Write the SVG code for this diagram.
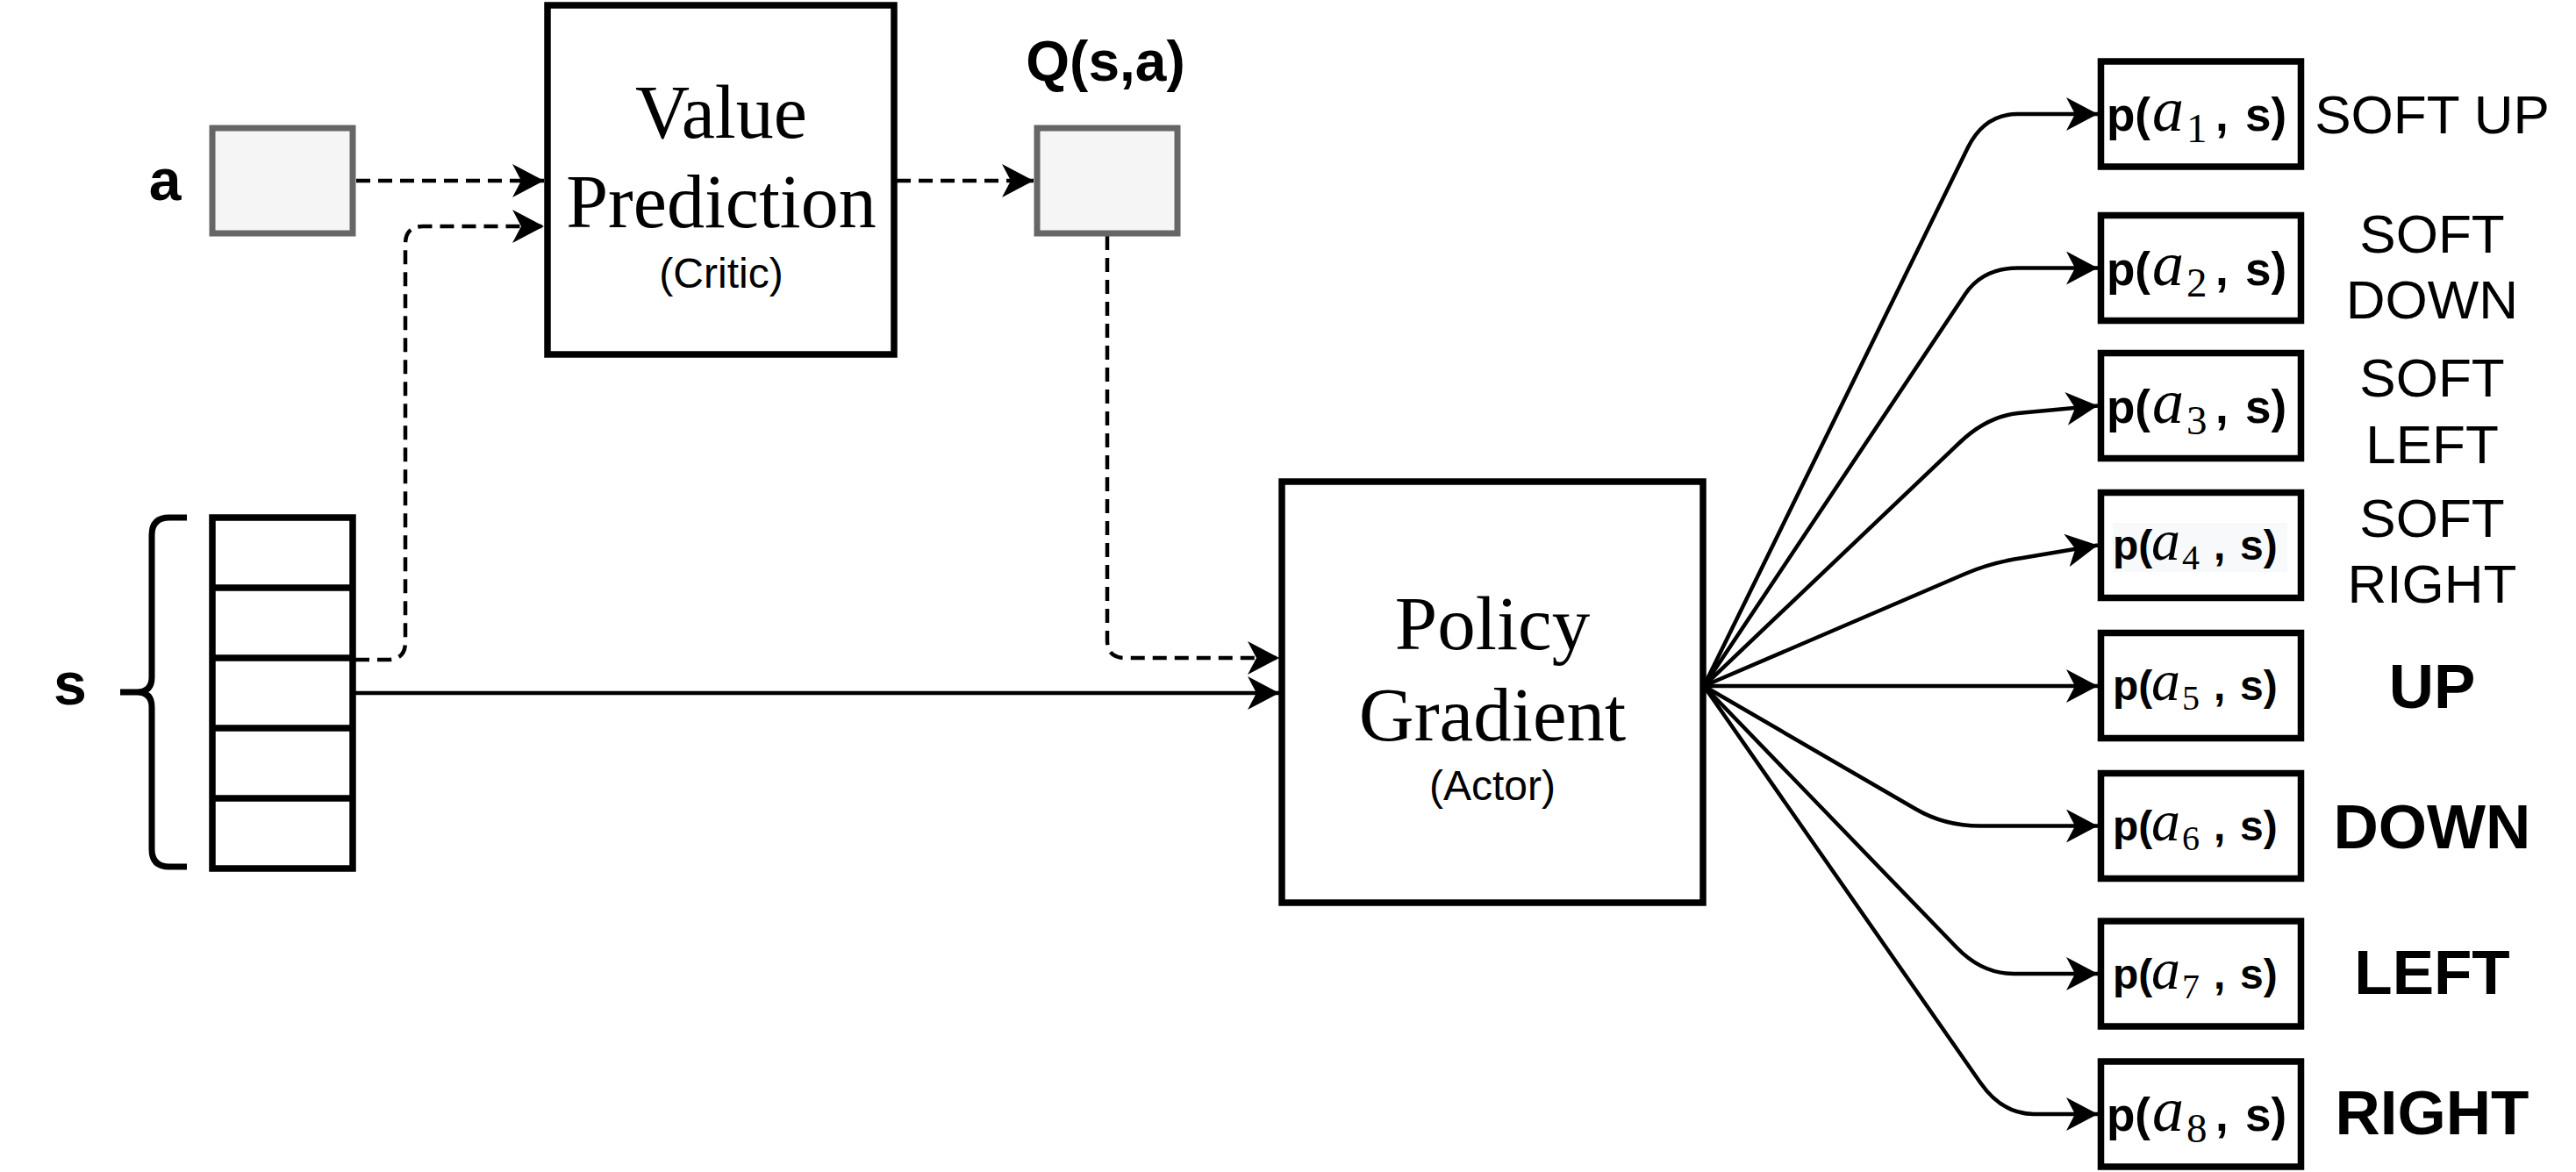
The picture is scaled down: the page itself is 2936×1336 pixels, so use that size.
<svg xmlns="http://www.w3.org/2000/svg" width="2936" height="1336" viewBox="0 0 2936 1336">
<defs>
<style>
.box{fill:#ffffff;stroke:#000000;stroke-width:7.5}
.gbox{fill:#f5f5f5;stroke:#666666;stroke-width:7}
.ln{fill:none;stroke:#000000;stroke-width:4.5}
.dash{stroke-dasharray:16 9}
.serif{font-family:"Liberation Serif","Times New Roman",serif;font-size:86px;text-anchor:middle;fill:#000}
.sub{font-family:"Liberation Sans",Arial,sans-serif;font-size:48px;text-anchor:middle;fill:#000}
.lbl{font-family:"Liberation Sans",Arial,sans-serif;font-weight:bold;fill:#000;text-anchor:middle}
.act{font-family:"Liberation Sans",Arial,sans-serif;font-size:62px;text-anchor:middle;fill:#000}
.actb{font-family:"Liberation Sans",Arial,sans-serif;font-size:71px;font-weight:bold;text-anchor:middle;fill:#000}
.pn{font-family:"Liberation Sans",Arial,sans-serif;font-weight:bold;font-size:48px;fill:#000}
.pw{font-family:"Liberation Sans",Arial,sans-serif;font-weight:bold;font-size:53px;fill:#000}
.pn .mi{font-family:"Liberation Serif","Times New Roman",serif;font-style:italic;font-weight:normal;font-size:66px}
.pn .mn{font-family:"Liberation Serif","Times New Roman",serif;font-weight:normal;font-size:40px}
.pw .mi{font-family:"Liberation Serif","Times New Roman",serif;font-style:italic;font-weight:normal;font-size:72px}
.pw .mn{font-family:"Liberation Serif","Times New Roman",serif;font-weight:normal;font-size:47px}
</style>
<marker id="arr" markerUnits="userSpaceOnUse" markerWidth="36" markerHeight="38" refX="36" refY="19" orient="auto" viewBox="0 0 36 38">
<path d="M0,0 L36,19 L0,38 L10,19 Z" fill="#000"/>
</marker>
</defs>
<rect width="2936" height="1336" fill="#ffffff"/>

<g id="connectors">
<path class="ln dash" d="M406,206 L620,206" marker-end="url(#arr)"/>
<path class="ln dash" d="M405,752 L442,752 Q462,752 462,732 L462,278 Q462,258 482,258 L620,258" marker-end="url(#arr)"/>
<path class="ln dash" d="M1022,206 L1178,206" marker-end="url(#arr)"/>
<path class="ln dash" d="M1262,269 L1262,730 Q1262,750 1282,750 L1458,750" marker-end="url(#arr)"/>
<path class="ln" d="M405,790 L1458,790" marker-end="url(#arr)"/>
<path class="ln" d="M1942,782 L2243,168 Q2262,130 2300,130 L2391,130" marker-end="url(#arr)"/>
<path class="ln" d="M1942,782 L2240,335 Q2260,305.5 2300,305.5 L2391,305.5" marker-end="url(#arr)"/>
<path class="ln" d="M1942,782 L2233,505 Q2264,475 2300,471 L2391,462.5" marker-end="url(#arr)"/>
<path class="ln" d="M1942,782 L2240,654 Q2270,641 2305,636 L2391,621.5" marker-end="url(#arr)"/>
<path class="ln" d="M1942,782 L2391,782" marker-end="url(#arr)"/>
<path class="ln" d="M1942,782 L2183,922 Q2216,941.5 2257,941.5 L2391,941.5" marker-end="url(#arr)"/>
<path class="ln" d="M1942,782 L2230,1080 Q2259,1110 2295,1110 L2391,1110" marker-end="url(#arr)"/>
<path class="ln" d="M1942,782 L2257,1234 Q2282,1270 2318,1270 L2391,1270" marker-end="url(#arr)"/>
</g>

<g id="a-input">
<rect class="gbox" x="242" y="146" width="160" height="120"/>
<text class="lbl" x="188" y="228" font-size="66">a</text>
</g>

<g id="value-prediction">
<rect class="box" x="624" y="6" width="395" height="398"/>
<text class="serif" x="822" y="157">Value</text>
<text class="serif" x="822" y="259">Prediction</text>
<text class="sub" x="822" y="328">(Critic)</text>
</g>

<g id="q-output">
<rect class="gbox" x="1182" y="146" width="160" height="120"/>
<text class="lbl" x="1260" y="92" font-size="64">Q(s,a)</text>
</g>

<g id="state">
<rect class="box" x="242" y="590" width="160" height="400"/>
<path d="M242,670 H402 M242,750 H402 M242,830 H402 M242,910 H402" stroke="#000" stroke-width="7.5" fill="none"/>
<path d="M213,590 H193 Q173,590 173,610 V772 Q173,789 156,789 H137 M156,789 Q173,789 173,806 V968 Q173,988 193,988 H213" fill="none" stroke="#000" stroke-width="7"/>
<text class="lbl" x="80" y="803" font-size="68">s</text>
</g>

<g id="policy-gradient">
<rect class="box" x="1461" y="549" width="480" height="480"/>
<text class="serif" x="1701" y="740" style="font-size:87px">Policy</text>
<text class="serif" x="1701" y="844" style="font-size:87px">Gradient</text>
<text class="sub" x="1701" y="912">(Actor)</text>
</g>

<g id="p1">
<rect class="box" x="2394.5" y="70" width="228" height="120"/>
<text class="pw" y="149"><tspan x="2401">p(</tspan><tspan class="mi" x="2453">a</tspan><tspan class="mn" x="2492" y="162">1</tspan><tspan x="2525" y="149">,</tspan><tspan x="2559">s)</tspan></text>
<text class="act" x="2772" y="152">SOFT UP</text>
</g>

<g id="p2">
<rect class="box" x="2394.5" y="245.5" width="228" height="120"/>
<text class="pw" y="324.5"><tspan x="2401">p(</tspan><tspan class="mi" x="2453">a</tspan><tspan class="mn" x="2492" y="337.5">2</tspan><tspan x="2525" y="324.5">,</tspan><tspan x="2559">s)</tspan></text>
<text class="act" x="2772" y="288">SOFT</text>
<text class="act" x="2772" y="363">DOWN</text>
</g>

<g id="p3">
<rect class="box" x="2394.5" y="402.5" width="228" height="120"/>
<text class="pw" y="481.5"><tspan x="2401">p(</tspan><tspan class="mi" x="2453">a</tspan><tspan class="mn" x="2492" y="494.5">3</tspan><tspan x="2525" y="481.5">,</tspan><tspan x="2559">s)</tspan></text>
<text class="act" x="2772" y="452">SOFT</text>
<text class="act" x="2772" y="528">LEFT</text>
</g>

<g id="p4">
<rect class="box" x="2394.5" y="561.5" width="228" height="120"/>
<rect x="2408" y="596" width="199" height="56" fill="#f8f9fa"/>
<text class="pn" y="638"><tspan x="2408">p(</tspan><tspan class="mi" x="2452">a</tspan><tspan class="mn" x="2487" y="649">4</tspan><tspan x="2523" y="638">,</tspan><tspan x="2553">s)</tspan></text>
<text class="act" x="2772" y="612">SOFT</text>
<text class="act" x="2772" y="687">RIGHT</text>
</g>

<g id="p5">
<rect class="box" x="2394.5" y="721.5" width="228" height="120"/>
<text class="pn" y="798"><tspan x="2408">p(</tspan><tspan class="mi" x="2452">a</tspan><tspan class="mn" x="2487" y="809">5</tspan><tspan x="2523" y="798">,</tspan><tspan x="2553">s)</tspan></text>
<text class="actb" x="2772" y="807">UP</text>
</g>

<g id="p6">
<rect class="box" x="2394.5" y="881.5" width="228" height="120"/>
<text class="pn" y="958"><tspan x="2408">p(</tspan><tspan class="mi" x="2452">a</tspan><tspan class="mn" x="2487" y="969">6</tspan><tspan x="2523" y="958">,</tspan><tspan x="2553">s)</tspan></text>
<text class="actb" x="2772" y="967">DOWN</text>
</g>

<g id="p7">
<rect class="box" x="2394.5" y="1050" width="228" height="120"/>
<text class="pn" y="1127"><tspan x="2408">p(</tspan><tspan class="mi" x="2452">a</tspan><tspan class="mn" x="2487" y="1138">7</tspan><tspan x="2523" y="1127">,</tspan><tspan x="2553">s)</tspan></text>
<text class="actb" x="2772" y="1133">LEFT</text>
</g>

<g id="p8">
<rect class="box" x="2394.5" y="1210" width="228" height="120"/>
<text class="pw" y="1289"><tspan x="2401">p(</tspan><tspan class="mi" x="2453">a</tspan><tspan class="mn" x="2492" y="1302">8</tspan><tspan x="2525" y="1289">,</tspan><tspan x="2559">s)</tspan></text>
<text class="actb" x="2772" y="1293">RIGHT</text>
</g>
</svg>
